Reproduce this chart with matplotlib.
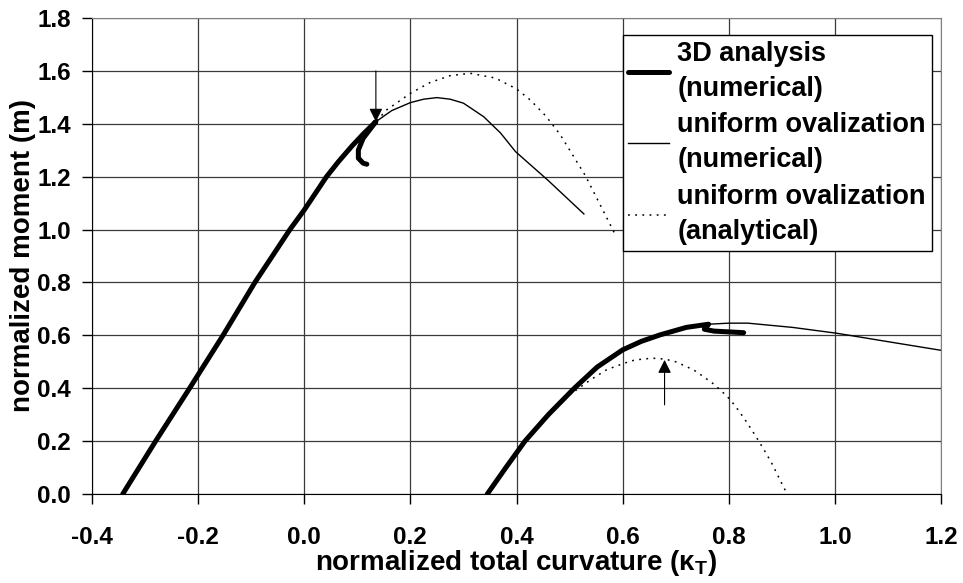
import numpy as np
import matplotlib.pyplot as plt

plt.rcParams['font.family'] = ['Liberation Sans', 'DejaVu Sans']
plt.rcParams['font.weight'] = 'bold'

# ---- data (normalized curvature, normalized moment) ----
# left branch
x3d_left = [-0.342, -0.280, -0.216, -0.153, -0.093, -0.027, 0.0, 0.042, 0.065, 0.09, 0.112, 0.135,
            0.111, 0.102, 0.102, 0.111, 0.118]
y3d_left = [0.0, 0.2, 0.4, 0.6, 0.8, 1.0, 1.074, 1.2, 1.258, 1.316, 1.363, 1.408,
            1.345, 1.301, 1.270, 1.251, 1.247]

xnum_left = [-0.342, -0.280, -0.216, -0.153, -0.093, -0.027, 0.0, 0.042, 0.065, 0.09, 0.112, 0.135,
             0.165, 0.2, 0.225, 0.25, 0.275, 0.3, 0.338, 0.37, 0.398, 0.46, 0.527]
ynum_left = [0.0, 0.2, 0.4, 0.6, 0.8, 1.0, 1.074, 1.2, 1.258, 1.316, 1.363, 1.408,
             1.45, 1.48, 1.493, 1.499, 1.493, 1.478, 1.427, 1.365, 1.295, 1.185, 1.059]

xana_left = [-0.342, -0.280, -0.216, -0.153, -0.093, -0.027, 0.0, 0.042, 0.065, 0.09, 0.112, 0.135,
             0.155, 0.2, 0.237, 0.275, 0.313, 0.36, 0.40, 0.426, 0.455, 0.482, 0.53, 0.577, 0.585]
yana_left = [0.0, 0.2, 0.4, 0.6, 0.8, 1.0, 1.074, 1.2, 1.258, 1.316, 1.363, 1.408,
             1.452, 1.515, 1.556, 1.582, 1.591, 1.573, 1.532, 1.49, 1.43, 1.36, 1.203, 1.017, 0.985]

# right branch
x3d_right = [0.345, 0.38, 0.416, 0.46, 0.509, 0.552, 0.6, 0.635, 0.671, 0.72, 0.762,
             0.754, 0.772, 0.828]
y3d_right = [0.0, 0.1, 0.2, 0.3, 0.4, 0.48, 0.545, 0.577, 0.602, 0.630, 0.642,
             0.623, 0.616, 0.610]

xnum_right = [0.345, 0.38, 0.416, 0.46, 0.509, 0.552, 0.6, 0.635, 0.671, 0.72, 0.762,
              0.80, 0.836, 0.92, 1.003, 1.1, 1.204]
ynum_right = [0.0, 0.1, 0.2, 0.3, 0.4, 0.48, 0.545, 0.577, 0.602, 0.630, 0.642,
              0.646, 0.646, 0.63, 0.608, 0.576, 0.542]

xana_right = [0.345, 0.38, 0.416, 0.46, 0.50, 0.539, 0.57, 0.602, 0.62, 0.64, 0.660, 0.68,
              0.70, 0.734, 0.75, 0.77, 0.785, 0.803, 0.815, 0.83, 0.845, 0.857, 0.865,
              0.88, 0.89, 0.901, 0.91]
yana_right = [0.0, 0.1, 0.2, 0.3, 0.375, 0.431, 0.47, 0.494, 0.505, 0.511, 0.513, 0.51,
              0.50, 0.469, 0.447, 0.418, 0.392, 0.356, 0.325, 0.283, 0.237, 0.198, 0.172,
              0.12, 0.08, 0.035, 0.0]

# arrows: (tip, tail)
arrows = [((0.135, 1.408), (0.135, 1.6)),
          ((0.679, 0.507), (0.679, 0.337))]

xticks = np.arange(-0.4, 1.21, 0.2)
yticks = np.arange(0.0, 1.81, 0.2)

fig = plt.figure(figsize=(9.63, 5.83), dpi=100)
ax = fig.add_axes([0.0955, 0.1527, 0.8817, 0.8164])

dotted = (0, (1.2, 3.5))
# analytical (dotted) first, then numerical thin, then 3D thick on top
ax.plot(xana_left, yana_left, color='black', lw=1.1, ls=dotted,
        label='uniform ovalization\n(analytical)')
ax.plot(xana_right, yana_right, color='black', lw=1.1, ls=dotted)
ax.plot(xnum_left, ynum_left, color='black', lw=1.0,
        label='uniform ovalization\n(numerical)')
ax.plot(xnum_right, ynum_right, color='black', lw=1.0)
ax.plot(x3d_left, y3d_left, color='black', lw=3.6, solid_capstyle='round',
        solid_joinstyle='round', label='3D analysis\n(numerical)')
ax.plot(x3d_right, y3d_right, color='black', lw=3.6, solid_capstyle='round',
        solid_joinstyle='round')

for tip, tail in arrows:
    ax.annotate('', xy=tip, xytext=tail,
                arrowprops=dict(arrowstyle='-|>', color='black', lw=0.8,
                                mutation_scale=20, shrinkA=0, shrinkB=0))

ax.set_xlim(-0.4, 1.2)
ax.set_ylim(0.0, 1.8)
ax.set_xticks(xticks)
ax.set_yticks(yticks)
ax.set_xticklabels([f'{v:.1f}' for v in xticks], fontsize=17.5, fontweight='bold')
ax.set_yticklabels([f'{v:.1f}' for v in yticks], fontsize=17.5, fontweight='bold')
ax.tick_params(axis='x', direction='out', length=7, width=1, pad=16)
ax.tick_params(axis='y', direction='out', length=7, width=1, pad=8)

ax.grid(True, color='#3a3a3a', lw=0.9)
ax.set_axisbelow(True)
for side in ['top', 'right']:
    ax.spines[side].set_color('#808080')
for side in ['left', 'bottom']:
    ax.spines[side].set_color('black')

ax.set_xlabel(r'normalized total curvature (κ$_\mathregular{T}$)', fontsize=20,
              fontweight='bold', labelpad=-1)
ax.set_ylabel('normalized moment (m)', fontsize=20, fontweight='bold', labelpad=1)

handles, labels = ax.get_legend_handles_labels()
order = [2, 1, 0]
leg = ax.legend([handles[i] for i in order], [labels[i] for i in order],
                loc='upper right', bbox_to_anchor=(0.989, 0.964), borderaxespad=0,
                fancybox=False, framealpha=1, edgecolor='black',
                prop={'size': 19.5, 'weight': 'bold'}, handlelength=1.5,
                handletextpad=0.3, labelspacing=0.38, borderpad=0.22)
leg.get_frame().set_linewidth(1.0)
for t in leg.get_texts():
    t.set_linespacing(1.45)

fig.savefig('out.png', dpi=100)
